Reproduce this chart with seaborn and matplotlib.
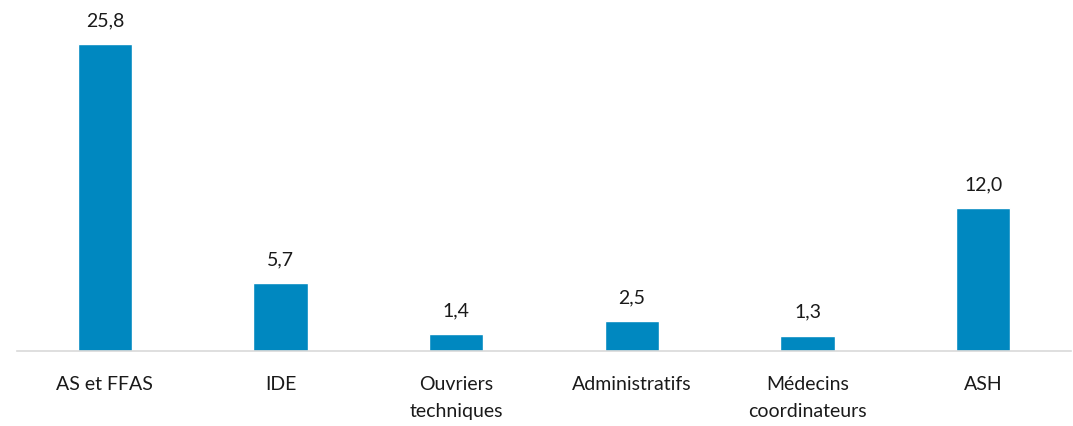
import matplotlib
matplotlib.use('Agg')
import matplotlib.pyplot as plt
import seaborn as sns
import pandas as pd

# data
categories = ['AS et FFAS', 'IDE', 'Ouvriers\ntechniques', 'Administratifs',
              'Médecins\ncoordinateurs', 'ASH']
values = [25.8, 5.7, 1.4, 2.5, 1.3, 12.0]

BAR_COLOR = '#0088C0'

df = pd.DataFrame({'cat': categories, 'val': values})

sns.set_theme(style='white')
plt.rcParams['font.family'] = ['Lato', 'DejaVu Sans']

fig = plt.figure(figsize=(10.73, 4.26), dpi=100)
ax = fig.add_axes([17 / 1073, 75 / 426, 1054 / 1073, 333 / 426])

sns.barplot(data=df, x='cat', y='val', color=BAR_COLOR, width=0.31,
            saturation=1, ax=ax)

ax.set_ylim(0, 28)
ax.set_xlim(-0.5, len(categories) - 0.5)

# value labels with a comma as decimal separator
labels = [f'{v:.1f}'.replace('.', ',') for v in values]
ax.bar_label(ax.containers[0], labels=labels, padding=11, fontsize=14,
             color='#1a1a1a', clip_on=False)

ax.set_xlabel('')
ax.set_ylabel('')
ax.set_yticks([])
ax.tick_params(axis='x', length=0, pad=18, labelsize=14, colors='#1a1a1a')
for lbl in ax.get_xticklabels():
    lbl.set_linespacing(1.7)
for side in ['top', 'left', 'right']:
    ax.spines[side].set_visible(False)
ax.spines['bottom'].set_color('#d9d9d9')
ax.spines['bottom'].set_linewidth(1.2)

fig.savefig('out.png', dpi=100)
